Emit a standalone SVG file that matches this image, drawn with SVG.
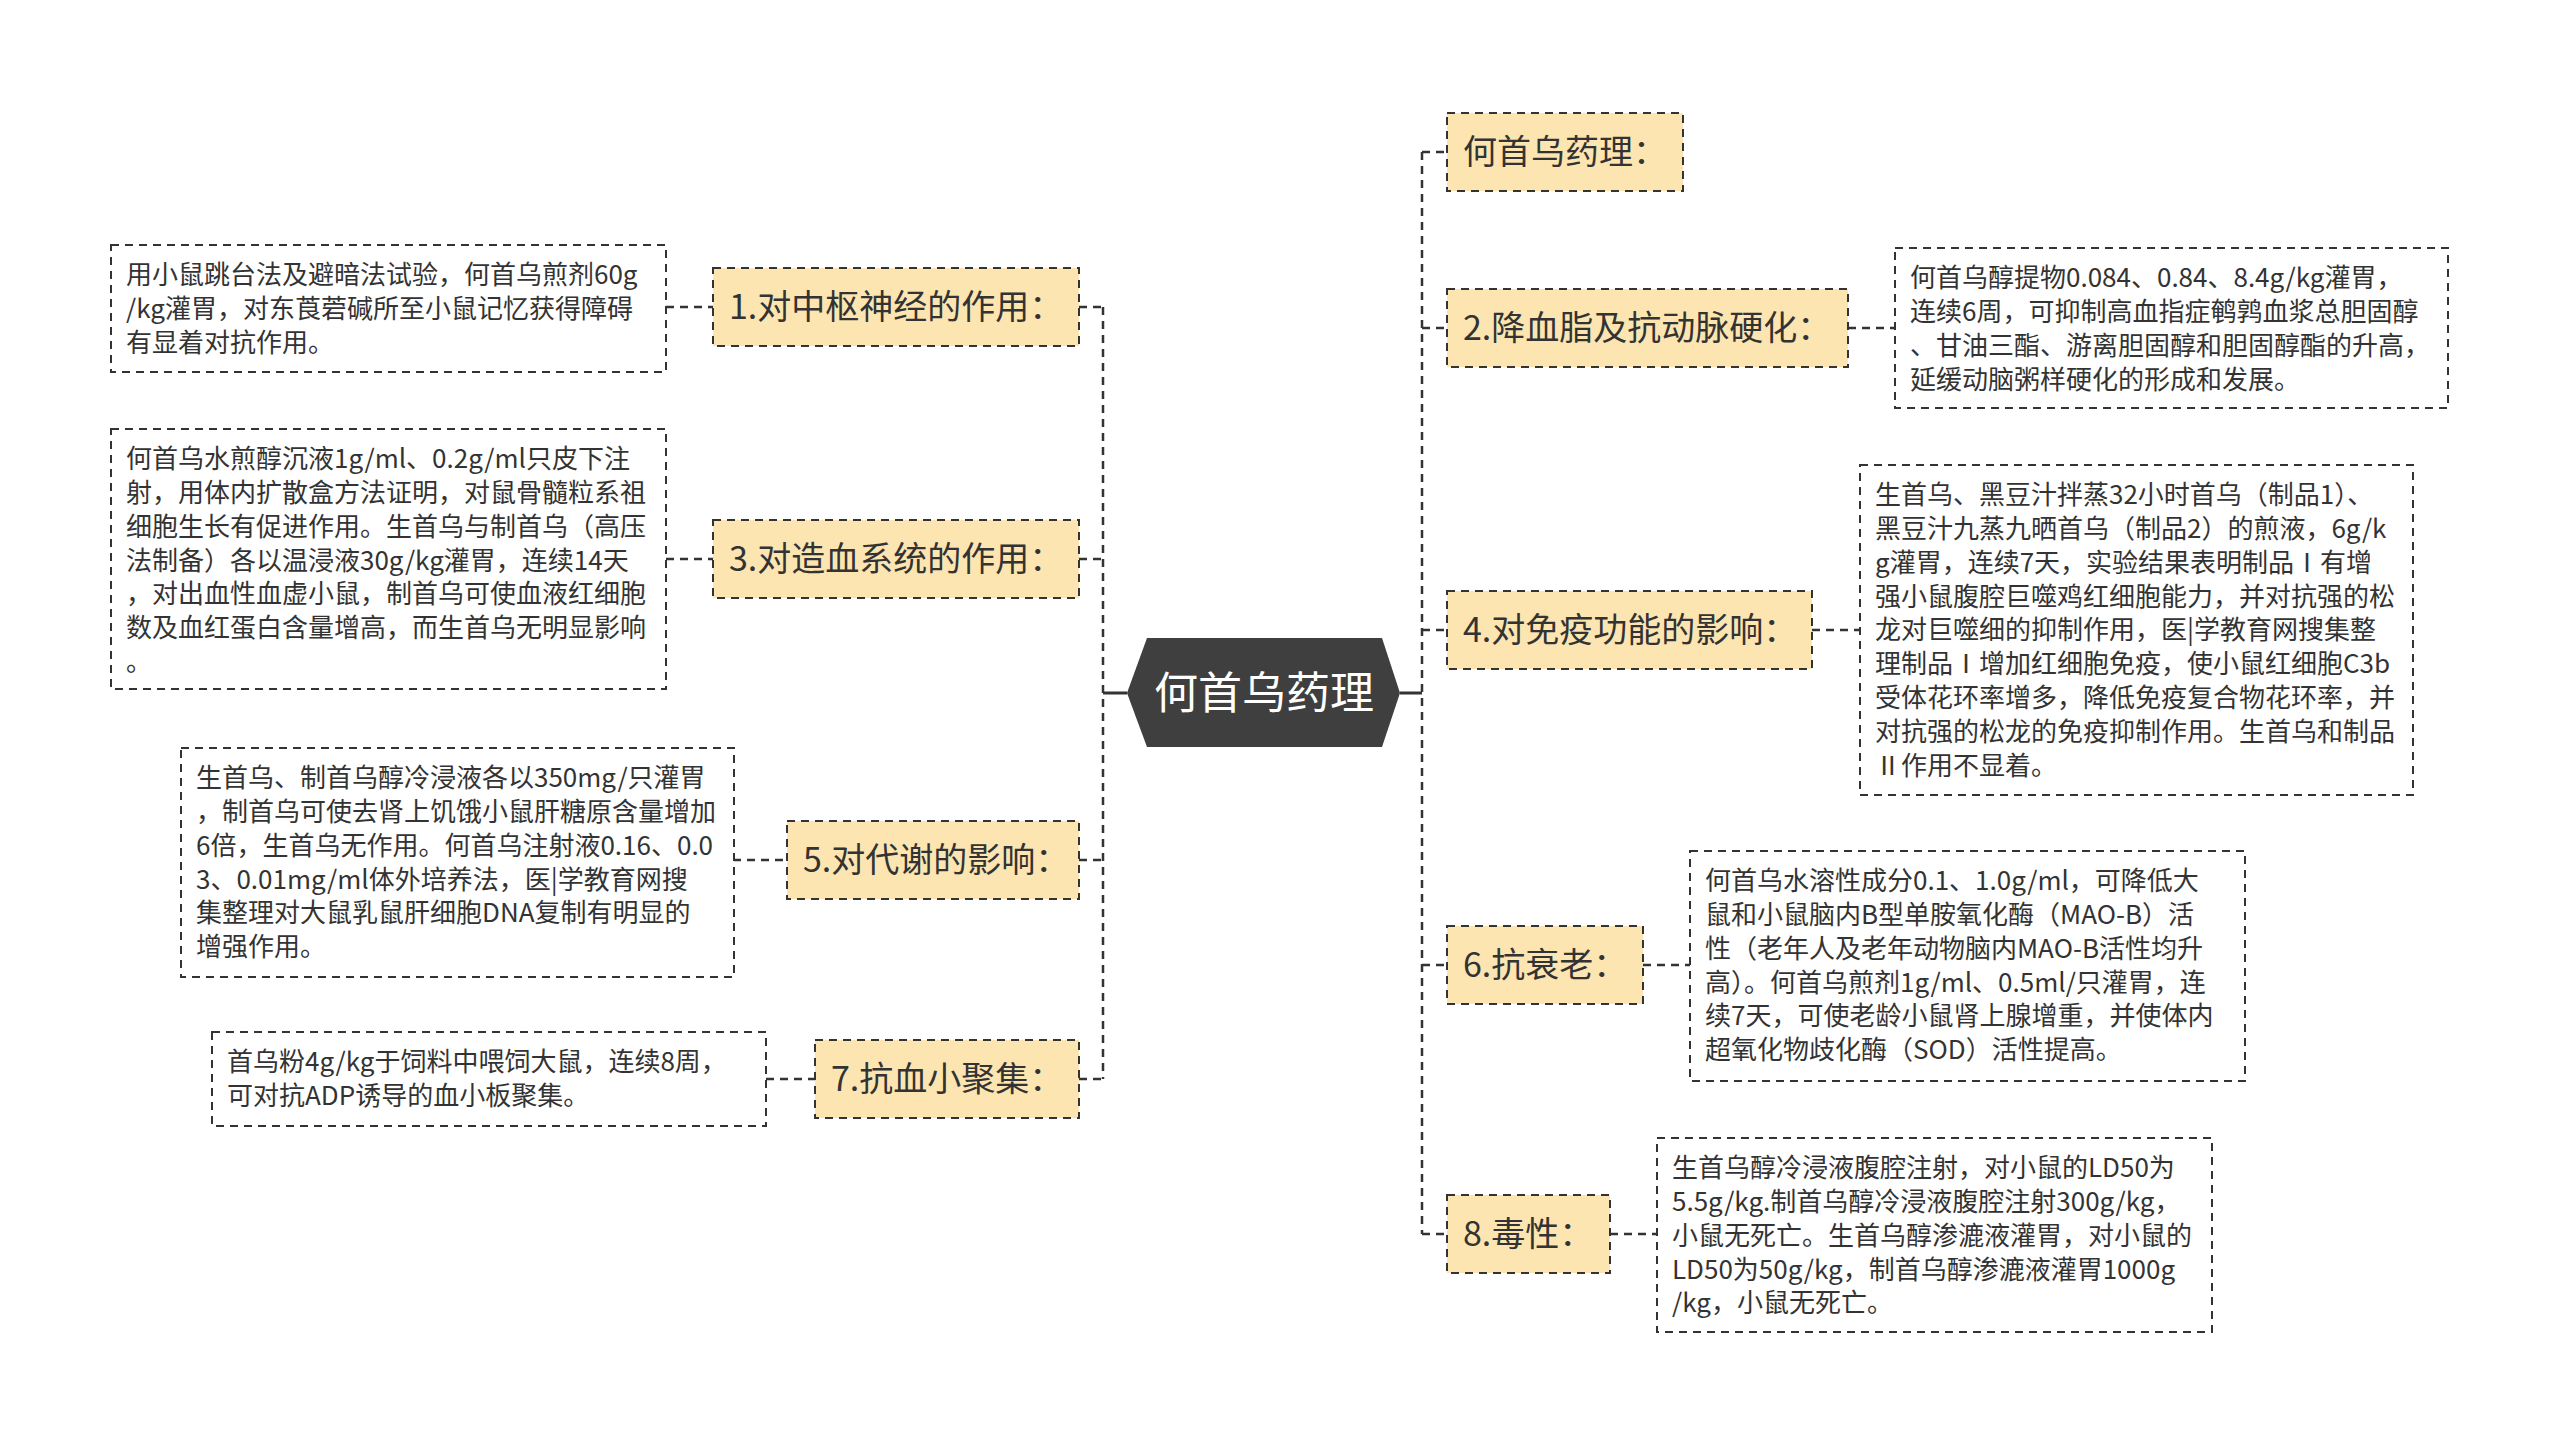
<svg xmlns="http://www.w3.org/2000/svg" width="2560" height="1445" viewBox="0 0 2560 1445">
<style>
text{font-family:"Noto Sans CJK SC","Noto Sans",sans-serif;fill:#333}
.lab rect{fill:#fce5b1;stroke:#333;stroke-width:2;stroke-dasharray:8 6}
.lab text{font-size:34px}
.det rect{fill:#fff;stroke:#333;stroke-width:2;stroke-dasharray:8 6}
.det text{font-size:26px}
.dash{fill:none;stroke:#333;stroke-width:2.5;stroke-dasharray:8 6}
.solid{fill:none;stroke:#333;stroke-width:3}
</style>
<rect width="2560" height="1445" fill="#fff"/>
<g id="connectors">
<path class="solid" d="M1127,693H1103M1400,693H1422"/>
<path class="dash" d="M1103,307V1079M1079,307H1103M1079,559H1103M1079,860H1103M1079,1079H1103"/>
<path class="dash" d="M1422,152V1234M1422,152H1447M1422,328H1447M1422,630H1447M1422,965H1447M1422,1234H1447"/>
<path class="dash" d="M666,307H713M666,559H713M733,860H787M766,1079H815"/>
<path class="dash" d="M1848,328H1895M1812,630H1860M1643,965H1690M1610,1234H1657"/>
</g>
<g id="root">
<polygon points="1127,693 1147,638 1382,638 1400,693 1382,747 1147,747" fill="#3f3f3f"/>
<text x="1264" y="709" text-anchor="middle" font-size="44" style="fill:#fff">何首乌药理</text>
</g>
<g id="n1" class="lab"><rect x="713" y="268" width="366" height="78"/><text x="729" y="319">1.对中枢神经的作用：</text></g>
<g id="n3" class="lab"><rect x="713" y="520" width="366" height="78"/><text x="729" y="571">3.对造血系统的作用：</text></g>
<g id="n5" class="lab"><rect x="787" y="821" width="292" height="78"/><text x="803" y="872">5.对代谢的影响：</text></g>
<g id="n7" class="lab"><rect x="815" y="1040" width="264" height="78"/><text x="831" y="1091">7.抗血小聚集：</text></g>
<g id="n0" class="lab"><rect x="1447" y="113" width="236" height="78"/><text x="1463" y="164">何首乌药理：</text></g>
<g id="n2" class="lab"><rect x="1447" y="289" width="401" height="78"/><text x="1463" y="340">2.降血脂及抗动脉硬化：</text></g>
<g id="n4" class="lab"><rect x="1447" y="591" width="365" height="78"/><text x="1463" y="642">4.对免疫功能的影响：</text></g>
<g id="n6" class="lab"><rect x="1447" y="926" width="196" height="78"/><text x="1463" y="977">6.抗衰老：</text></g>
<g id="n8" class="lab"><rect x="1447" y="1195" width="163" height="78"/><text x="1463" y="1246">8.毒性：</text></g>
<g id="d1" class="det"><rect x="111" y="245" width="555" height="127"/>
<text x="126" y="284">用小鼠跳台法及避暗法试验，何首乌煎剂60g</text>
<text x="126" y="318">/kg灌胃，对东莨菪碱所至小鼠记忆获得障碍</text>
<text x="126" y="352">有显着对抗作用。</text></g>
<g id="d3" class="det"><rect x="111" y="429" width="555" height="260"/>
<text x="126" y="468">何首乌水煎醇沉液1g/ml、0.2g/ml只皮下注</text>
<text x="126" y="502">射，用体内扩散盒方法证明，对鼠骨髓粒系祖</text>
<text x="126" y="536">细胞生长有促进作用。生首乌与制首乌（高压</text>
<text x="126" y="570">法制备）各以温浸液30g/kg灌胃，连续14天</text>
<text x="126" y="603">，对出血性血虚小鼠，制首乌可使血液红细胞</text>
<text x="126" y="637">数及血红蛋白含量增高，而生首乌无明显影响</text>
<text x="126" y="671">。</text></g>
<g id="d5" class="det"><rect x="181" y="748" width="553" height="229"/>
<text x="196" y="787">生首乌、制首乌醇冷浸液各以350mg/只灌胃</text>
<text x="196" y="821">，制首乌可使去肾上饥饿小鼠肝糖原含量增加</text>
<text x="196" y="855">6倍，生首乌无作用。何首乌注射液0.16、0.0</text>
<text x="196" y="889">3、0.01mg/ml体外培养法，医|学教育网搜</text>
<text x="196" y="922">集整理对大鼠乳鼠肝细胞DNA复制有明显的</text>
<text x="196" y="956">增强作用。</text></g>
<g id="d7" class="det"><rect x="212" y="1032" width="554" height="94"/>
<text x="227" y="1071">首乌粉4g/kg于饲料中喂饲大鼠，连续8周，</text>
<text x="227" y="1105">可对抗ADP诱导的血小板聚集。</text></g>
<g id="d2" class="det"><rect x="1895" y="248" width="553" height="160"/>
<text x="1910" y="287">何首乌醇提物0.084、0.84、8.4g/kg灌胃，</text>
<text x="1910" y="321">连续6周，可抑制高血指症鹌鹑血浆总胆固醇</text>
<text x="1910" y="355">、甘油三酯、游离胆固醇和胆固醇酯的升高，</text>
<text x="1910" y="389">延缓动脑粥样硬化的形成和发展。</text></g>
<g id="d4" class="det"><rect x="1860" y="465" width="553" height="330"/>
<text x="1875" y="504">生首乌、黑豆汁拌蒸32小时首乌（制品1）、</text>
<text x="1875" y="538">黑豆汁九蒸九晒首乌（制品2）的煎液，6g/k</text>
<text x="1875" y="572">g灌胃，连续7天，实验结果表明制品Ⅰ有增</text>
<text x="1875" y="606">强小鼠腹腔巨噬鸡红细胞能力，并对抗强的松</text>
<text x="1875" y="639">龙对巨噬细的抑制作用，医|学教育网搜集整</text>
<text x="1875" y="673">理制品Ⅰ增加红细胞免疫，使小鼠红细胞C3b</text>
<text x="1875" y="707">受体花环率增多，降低免疫复合物花环率，并</text>
<text x="1875" y="741">对抗强的松龙的免疫抑制作用。生首乌和制品</text>
<text x="1875" y="775">Ⅱ作用不显着。</text></g>
<g id="d6" class="det"><rect x="1690" y="851" width="555" height="230"/>
<text x="1705" y="890">何首乌水溶性成分0.1、1.0g/ml，可降低大</text>
<text x="1705" y="924">鼠和小鼠脑内B型单胺氧化酶（MAO-B）活</text>
<text x="1705" y="958">性（老年人及老年动物脑内MAO-B活性均升</text>
<text x="1705" y="992">高）。何首乌煎剂1g/ml、0.5ml/只灌胃，连</text>
<text x="1705" y="1025">续7天，可使老龄小鼠肾上腺增重，并使体内</text>
<text x="1705" y="1059">超氧化物歧化酶（SOD）活性提高。</text></g>
<g id="d8" class="det"><rect x="1657" y="1138" width="555" height="194"/>
<text x="1672" y="1177">生首乌醇冷浸液腹腔注射，对小鼠的LD50为</text>
<text x="1672" y="1211">5.5g/kg.制首乌醇冷浸液腹腔注射300g/kg，</text>
<text x="1672" y="1245">小鼠无死亡。生首乌醇渗漉液灌胃，对小鼠的</text>
<text x="1672" y="1279">LD50为50g/kg，制首乌醇渗漉液灌胃1000g</text>
<text x="1672" y="1312">/kg，小鼠无死亡。</text></g>
</svg>
